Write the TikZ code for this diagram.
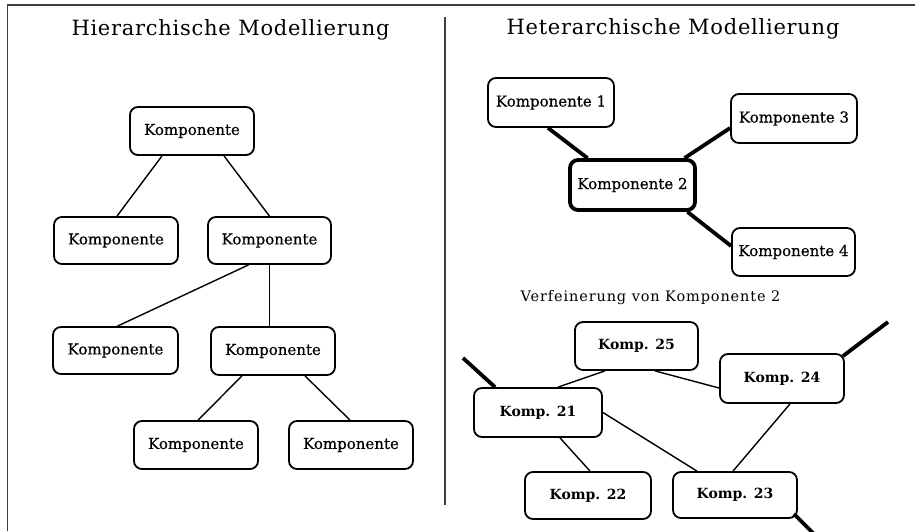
\documentclass[tikz,border=0pt]{standalone}
\usepackage{fontspec}
\setmainfont{DejaVu Serif}
\newfontfamily\titlefont[LetterSpace=3.5]{DejaVu Serif}
\newfontfamily\notefont[LetterSpace=6]{DejaVu Serif}
\newfontfamily\boxfont[FakeBold=0.5]{DejaVu Serif}
\newfontfamily\kompfont{DejaVu Serif}
\usetikzlibrary{positioning}
\tikzset{
  box/.style={draw, line width=1.8pt, rounded corners=8pt, inner sep=0pt,
    font=\boxfont\fontsize{15}{17}\selectfont},
  kbox/.style={box, font=\kompfont\bfseries\fontsize{14}{16}\selectfont},
  hubbox/.style={box, line width=3.8pt},
  thin/.style={line width=1.4pt},
  thick/.style={line width=3.8pt},
  frame/.style={line width=1.3pt, draw=black!75},
  heading/.style={font=\titlefont\fontsize{21}{24}\selectfont},
  note/.style={font=\notefont\fontsize{14.5}{17}\selectfont}
}
\begin{document}
\begin{tikzpicture}[x=1pt, y=-1pt]
\useasboundingbox (0,0) rectangle (915,531);
\clip (0,0) rectangle (915,531);

% outer frame and divider
\draw[frame] (7.5,531) -- (7.5,5) -- (915,5);
\draw[frame] (445,17) -- (445,505);

% headings
\node[heading] (th) at (230.5,30) {Hierarchische Modellierung};
\node[heading] (tr) at (673,29) {Heterarchische Modellierung};
\node[note] (tv) at (650.5,298) {Verfeinerung von Komponente 2};

% hierarchical tree
\node[box, minimum width=124pt, minimum height=48pt] (L0) at (192,131) {Komponente};
\node[box, minimum width=124pt, minimum height=47pt] (L1) at (116,240.5) {Komponente};
\node[box, minimum width=123pt, minimum height=47pt] (L2) at (269.5,240.5) {Komponente};
\node[box, minimum width=125pt, minimum height=47pt] (L3) at (115.5,350.5) {Komponente};
\node[box, minimum width=124pt, minimum height=48pt] (L4) at (273,351) {Komponente};
\node[box, minimum width=124pt, minimum height=48pt] (L5) at (196,445) {Komponente};
\node[box, minimum width=124pt, minimum height=48pt] (L6) at (351,445) {Komponente};

\draw[thin] ([xshift=-30pt]L0.south) -- ([xshift=1pt]L1.north);
\draw[thin] ([xshift=32pt]L0.south) -- (L2.north);
\draw[thin] ([xshift=-21pt]L2.south) -- ([xshift=2pt]L3.north);
\draw[thin] (L2.south) -- (L2.south |- L4.north);
\draw[thin] ([xshift=-31pt]L4.south) -- ([xshift=2pt]L5.north);
\draw[thin] ([xshift=32pt]L4.south) -- ([xshift=-1pt]L6.north);

% heterarchical network
\node[box, minimum width=126pt, minimum height=49pt] (K1) at (551,102.5) {Komponente 1};
\node[box, minimum width=126pt, minimum height=49pt] (K3) at (794,118.5) {Komponente 3};
\node[hubbox, minimum width=125pt, minimum height=50pt] (K2) at (632.5,185) {Komponente 2};
\node[box, minimum width=123pt, minimum height=48pt] (K4) at (793.5,252) {Komponente 4};

\draw[thick] ([xshift=-3pt]K1.south) -- ([xshift=-45pt]K2.north);
\draw[thick] ([xshift=52pt]K2.north) -- ([yshift=-9.5pt]K3.west);
\draw[thick] ([xshift=55pt]K2.south) -- ([yshift=6pt]K4.west);

% refinement of Komponente 2
\node[kbox, minimum width=123pt, minimum height=48pt] (C25) at (636.5,346) {Komp. 25};
\node[kbox, minimum width=124pt, minimum height=49pt] (C24) at (782,378.5) {Komp. 24};
\node[kbox, minimum width=128pt, minimum height=49pt] (C21) at (538,412.5) {Komp. 21};
\node[kbox, minimum width=126pt, minimum height=47pt] (C22) at (588,495.5) {Komp. 22};
\node[kbox, minimum width=124pt, minimum height=46pt] (C23) at (735,495) {Komp. 23};

\draw[thin] ([xshift=-31.5pt]C25.south) -- ([xshift=20pt]C21.north);
\draw[thin] ([xshift=18.5pt]C25.south) -- ([yshift=-9.5pt]C24.west);
\draw[thin] (C21.east) -- ([xshift=-38pt]C23.north);
\draw[thin] ([xshift=22pt]C21.south) -- ([xshift=2pt]C22.north);
\draw[thin] ([xshift=8pt]C24.south) -- ([xshift=-2pt]C23.north);

% outside links of the refined component
\coordinate (o21) at (463,358);
\coordinate (o24) at (888,322);
\coordinate (o23) at (815,535);
\draw[thick] ([xshift=-43pt]C21.north) -- (o21);
\draw[thick] ([xshift=-2pt,yshift=-3pt]C24.north east) -- (o24);
\draw[thick] ([xshift=-4pt,yshift=5pt]C23.south east) -- (o23);
\end{tikzpicture}
\end{document}
